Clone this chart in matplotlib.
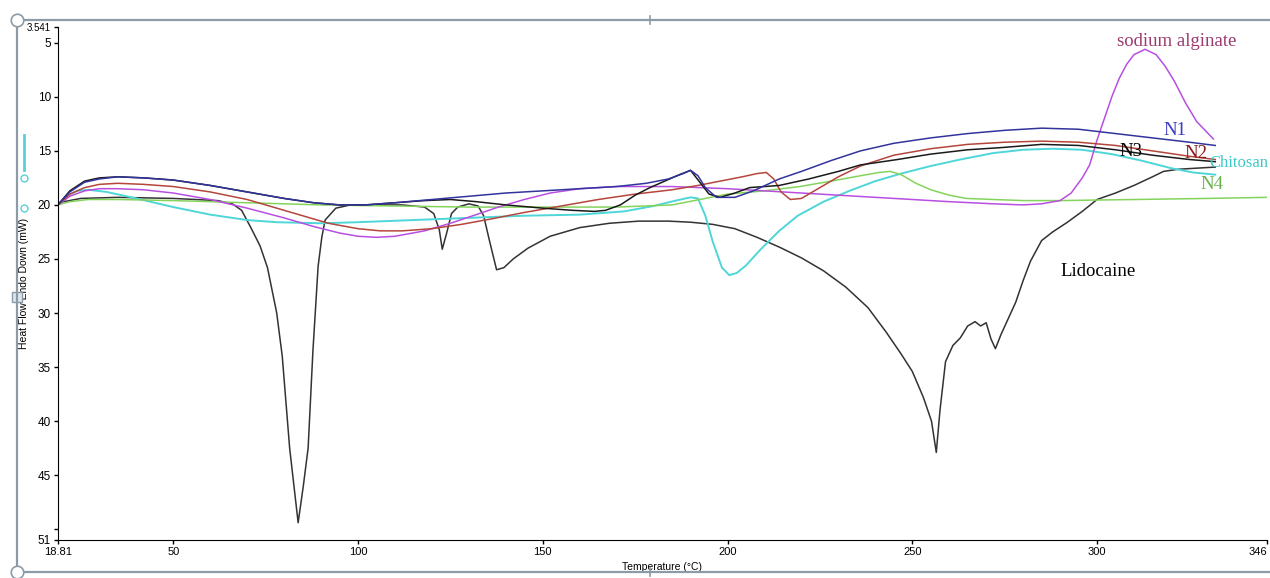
import matplotlib.pyplot as plt
from matplotlib.patches import Rectangle
from matplotlib.lines import Line2D

# DSC thermogram values (temperature in C, heat flow in mW)
lido_t = [18.8, 25, 35, 50, 62, 66, 68.5, 71, 73.5, 75.5, 78, 79.5, 81.5, 83.8, 85.2, 86.5,
          87.8, 89.2, 90.2, 91.1, 94, 98, 105, 112, 118, 120.5, 122, 122.8, 124, 125.3, 127,
          130, 132.5, 134, 135.5, 137.5, 139.5, 142, 146, 152, 160, 168, 176, 184, 190, 196,
          202, 208, 214, 220, 226, 232, 238, 243, 247, 250, 253, 255.2, 256.5, 257.5, 259,
          261, 263, 265, 267, 268.5, 270, 271.3, 272.5, 274, 276, 278, 280, 282, 285, 288,
          292, 296, 300, 305, 310, 315, 318, 322, 327, 332]
lido_y = [19.8, 19.4, 19.3, 19.4, 19.6, 19.9, 20.5, 22.1, 23.8, 25.8, 30.0, 34.0, 42.5, 49.4,
          46.0, 42.5, 33.5, 25.7, 23.0, 21.4, 20.3, 20.0, 20.0, 20.0, 20.2, 20.8, 22.3, 24.1,
          22.6, 20.8, 20.2, 19.9, 20.1, 21.0, 23.2, 26.0, 25.8, 25.0, 24.0, 22.9, 22.1, 21.7,
          21.5, 21.5, 21.6, 21.8, 22.2, 23.0, 23.9, 24.9, 26.1, 27.6, 29.5, 31.8, 33.8, 35.4,
          37.8, 40.0, 42.9, 39.0, 34.5, 33.0, 32.3, 31.2, 30.8, 31.2, 30.9, 32.4, 33.3, 32.0,
          30.5, 29.0, 27.0, 25.2, 23.3, 22.5, 21.6, 20.6, 19.5, 18.9, 18.2, 17.4, 16.9, 16.7,
          16.6, 16.5]

n1_t = [18.8, 22, 26, 30, 35, 42, 50, 60, 70, 80, 88, 95, 102, 110, 120, 130, 140, 150, 160,
        170, 178, 184, 188, 190, 192, 194, 197, 202, 207, 214, 220, 228, 236, 245, 255, 265,
        275, 285, 295, 305, 315, 325, 332]
n1_y = [20.0, 18.8, 17.9, 17.6, 17.4, 17.5, 17.7, 18.2, 18.8, 19.4, 19.8, 20.0, 20.0, 19.8,
        19.5, 19.2, 18.9, 18.7, 18.5, 18.3, 18.0, 17.6, 17.1, 16.8, 17.3, 18.4, 19.3, 19.3,
        18.7, 17.6, 16.9, 15.9, 15.0, 14.3, 13.8, 13.4, 13.1, 12.9, 13.0, 13.4, 13.8, 14.2, 14.5]

n2_t = [18.8, 22, 26, 30, 35, 42, 50, 60, 70, 77, 85, 92, 100, 106, 112, 120, 128, 136, 145,
        155, 165, 175, 185, 192, 198, 204, 208, 210.5, 212.5, 214.5, 217, 220, 224, 230, 236,
        245, 255, 265, 275, 285, 295, 305, 315, 325, 332]
n2_y = [20.0, 19.0, 18.4, 18.1, 18.0, 18.1, 18.3, 18.8, 19.5, 20.2, 21.0, 21.7, 22.2, 22.4,
        22.4, 22.2, 21.8, 21.3, 20.7, 20.1, 19.5, 19.0, 18.6, 18.2, 17.8, 17.4, 17.1, 17.0,
        17.6, 18.8, 19.5, 19.4, 18.6, 17.4, 16.4, 15.4, 14.8, 14.4, 14.2, 14.1, 14.2, 14.5,
        15.0, 15.5, 15.8]

n3_t = [18.8, 22, 26, 30, 35, 42, 50, 60, 70, 80, 88, 95, 102, 110, 118, 125, 132, 140, 150,
        158, 164, 167, 171, 175, 179, 183, 187, 190, 192.5, 195, 198, 202, 206, 210, 214, 222,
        230, 236, 246, 255, 265, 274, 285, 295, 305, 315, 325, 332]
n3_y = [20.0, 18.7, 17.8, 17.5, 17.4, 17.5, 17.7, 18.2, 18.8, 19.4, 19.8, 20.0, 20.0, 19.8,
        19.6, 19.5, 19.7, 20.0, 20.3, 20.5, 20.6, 20.5, 20.0, 19.1, 18.4, 17.8, 17.2, 16.8,
        17.9, 19.0, 19.3, 18.9, 18.4, 18.3, 18.2, 17.6, 16.9, 16.3, 15.8, 15.3, 14.9, 14.7,
        14.4, 14.5, 14.9, 15.4, 15.8, 16.0]

n4_t = [18.8, 22, 27, 35, 50, 70, 90, 110, 130, 150, 170, 185, 192.5, 200, 210, 219.6, 228,
        236, 241, 244, 247, 251, 255, 260, 264.6, 272, 280, 290, 310, 330, 346]
n4_y = [20.0, 19.7, 19.5, 19.5, 19.6, 19.8, 20.0, 20.1, 20.2, 20.2, 20.2, 20.0, 19.5, 19.0,
        18.7, 18.3, 17.8, 17.3, 17.0, 16.9, 17.2, 18.0, 18.6, 19.1, 19.4, 19.5, 19.6, 19.6,
        19.5, 19.4, 19.3]

chit_t = [18.8, 21, 24, 27, 32, 40, 50, 60, 70, 78, 90, 100, 115, 130, 145, 160, 172, 180,
          186, 190, 192, 194, 196, 198.5, 200.5, 202.5, 205, 209, 214, 219, 226, 233, 240, 247,
          255, 263, 272, 280, 288, 296, 304, 312, 320, 326, 332]
chit_y = [20.0, 19.2, 18.7, 18.6, 18.8, 19.4, 20.2, 20.9, 21.4, 21.6, 21.7, 21.6, 21.4, 21.2,
          21.0, 20.9, 20.6, 20.1, 19.6, 19.3, 19.4, 21.0, 23.4, 25.8, 26.5, 26.3, 25.6, 24.1,
          22.4, 21.0, 19.7, 18.7, 17.8, 17.1, 16.4, 15.8, 15.2, 14.9, 14.8, 14.9, 15.3, 15.9,
          16.6, 17.0, 17.2]

alg_t = [18.8, 22, 26, 30, 35, 42, 50, 60, 70, 80, 88, 95, 100, 105, 110, 118, 125, 132, 138,
         145, 152, 160, 170, 185, 200, 215, 230, 245, 260, 272, 280, 285, 290, 293, 296, 298,
         300, 302, 304, 306, 308, 310, 313, 316, 318.5, 321, 324, 327, 331.5]
alg_y = [20.0, 19.2, 18.7, 18.5, 18.5, 18.6, 18.9, 19.5, 20.3, 21.2, 22.0, 22.6, 22.9, 23.0,
         22.9, 22.4, 21.7, 20.9, 20.2, 19.5, 18.9, 18.5, 18.3, 18.3, 18.5, 18.8, 19.1, 19.4,
         19.7, 19.9, 20.0, 19.9, 19.6, 18.9, 17.5, 16.3, 14.0, 12.0, 10.0, 8.3, 7.0, 6.1, 5.6,
         6.1, 7.2, 8.6, 10.6, 12.3, 13.9]

x_ticks = [18.81, 50, 100, 150, 200, 250, 300, 346]
x_labels = ['18.81', '50', '100', '150', '200', '250', '300', '346']
y_ticks = [3.541, 5, 10, 15, 20, 25, 30, 35, 40, 45, 50, 51]
y_labels = ['3.541', '5', '10', '15', '20', '25', '30', '35', '40', '45', '', '51']

plt.rcParams['font.family'] = ['Liberation Sans', 'DejaVu Sans']

fig = plt.figure(figsize=(12.7, 5.78), dpi=100)
ax = fig.add_axes([58 / 1270, 1 - 540 / 578, (1267 - 58) / 1270, (540 - 27) / 578])

lw = 1.1
ax.plot(lido_t, lido_y, color='#333333', lw=lw)
ax.plot(chit_t, chit_y, color='#4fd6d8', lw=lw + 0.3)
ax.plot(n4_t, n4_y, color='#84d45c', lw=lw)
ax.plot(alg_t, alg_y, color='#b84fe0', lw=lw)
ax.plot(n2_t, n2_y, color='#b5463c', lw=lw)
ax.plot(n3_t, n3_y, color='#1a1a1a', lw=lw)
ax.plot(n1_t, n1_y, color='#33339e', lw=lw)

ax.set_xlim(18.81, 346)
ax.set_ylim(51, 3.541)
ax.set_xticks(x_ticks)
ax.set_xticklabels(x_labels)
ax.set_yticks(y_ticks)
ax.set_yticklabels(y_labels)
ax.tick_params(axis='both', direction='out', length=3, width=1, pad=2)
ax.tick_params(axis='x', labelsize=8)
ax.tick_params(axis='y', labelsize=8.5)
ax.get_yticklabels()[0].set_fontsize(7)
ax.get_xticklabels()[-1].set_horizontalalignment('right')
ax.spines['top'].set_visible(False)
ax.spines['right'].set_visible(False)
ax.set_xlabel('Temperature (°C)', fontsize=7.5)
ax.set_ylabel('Heat Flow Endo Down (mW)', fontsize=7.5)
ax.xaxis.set_label_coords(0.5, -0.043)
ax.yaxis.set_label_coords(-0.024, 0.5)

# curve labels
serif = ['Liberation Serif', 'DejaVu Serif']
fs = 13.5
ax.text(321.6, 4.9, 'sodium alginate', color='#9b3a6e', fontsize=fs, family=serif,
        ha='center', va='center')
ax.text(321, 13.1, 'N1', color='#3b3bc8', fontsize=fs, family=serif, ha='center', va='center')
ax.text(309.2, 15.1, 'N3', color='black', fontsize=fs, family=serif, ha='center', va='center')
ax.text(326.7, 15.2, 'N2', color='#8b1a1a', fontsize=fs, family=serif, ha='center', va='center')
ax.text(330.3, 16.1, 'Chitosan', color='#3cc8c8', fontsize=fs - 1.5, family=serif,
        ha='left', va='center', clip_on=False)
ax.text(331, 18.1, 'N4', color='#6ab04c', fontsize=fs, family=serif, ha='center', va='center')
ax.text(300.2, 26.2, 'Lidocaine', color='black', fontsize=fs, family=serif,
        ha='center', va='center')

# outer selection frame of the screenshot
fw, fh = 1270, 578
frame = '#8d9ba6'
fig.add_artist(Line2D([17 / fw, 1.0], [1 - 20 / fh, 1 - 20 / fh], color=frame, lw=1.6))
fig.add_artist(Line2D([17 / fw, 1.0], [1 - 572 / fh, 1 - 572 / fh], color=frame, lw=1.6))
fig.add_artist(Line2D([17 / fw, 17 / fw], [1 - 20 / fh, 1 - 572 / fh], color=frame, lw=1.6))
fig.add_artist(Line2D([17 / fw, 17 / fw], [1 - 20 / fh, 1 - 572 / fh], lw=0, marker='o',
                      markersize=9, markerfacecolor='white', markeredgecolor=frame,
                      markeredgewidth=1.2))
for cy in (16, 568):
    fig.add_artist(Line2D([650 / fw, 650 / fw], [1 - cy / fh, 1 - (cy + 8) / fh],
                          color=frame, lw=1.2))
fig.add_artist(Rectangle((12 / fw, 1 - 302 / fh), 10 / fw, 10 / fh, transform=fig.transFigure,
                         facecolor='#dde6ee', edgecolor=frame, lw=1.0))
fig.add_artist(Line2D([24 / fw, 24 / fw], [1 - 135 / fh, 1 - 170 / fh], color='#5ad0d6', lw=2))
fig.add_artist(Line2D([24 / fw, 24 / fw], [1 - 178 / fh, 1 - 208 / fh], lw=0, marker='o',
                      markersize=5, markerfacecolor='white', markeredgecolor='#5ad0d6',
                      markeredgewidth=1.0))

fig.savefig('out.png', dpi=100)
